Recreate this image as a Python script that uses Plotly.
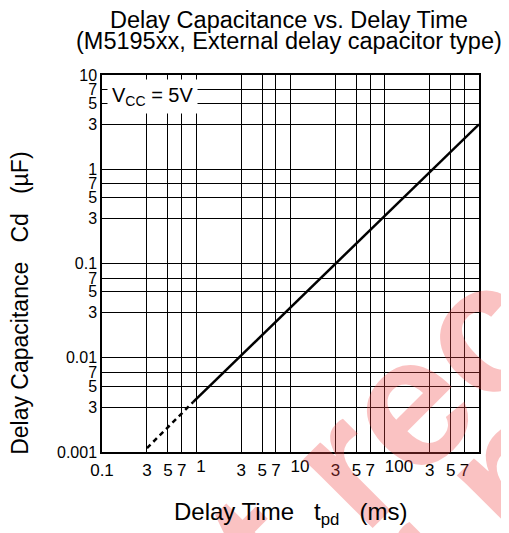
import plotly.graph_objects as go

# ---- data ----
t_solid = [0.93, 10, 100, 1000]          # delay time tpd (ms)
c_solid = [0.0034, 0.034, 0.32, 3.0]     # delay capacitance Cd (uF)
t_dashed = [0.3, 0.93]
c_dashed = [0.0011, 0.0034]

# grid / minor tick labels (centred under the grid line)
x_tickvals = [0.1, 0.3, 0.5, 0.7, 1, 3, 5, 7, 10, 30, 50, 70, 100, 300, 500, 700, 1000]
x_ticktext = ["0.1", "3", "5", "7", "", "3", "5", "7", "", "3", "5", "7", "", "3", "5", "7", ""]
# decade labels (start at the grid line)
x_decade_vals = [1, 10, 100, 1000]
x_decade_text = ["1", "10", "100", "1000"]
y_tickvals = [0.001, 0.003, 0.005, 0.007, 0.01, 0.03, 0.05, 0.07, 0.1, 0.3, 0.5, 0.7, 1, 3, 5, 7, 10]
y_ticktext = ["0.001", "3", "5", "7", "0.01", "3", "5", "7", "0.1", "3", "5", "7", "1", "3", "5", "7", "10"]

FONT = "Arial, Liberation Sans, Helvetica, sans-serif"

fig = go.Figure()
fig.add_trace(go.Scatter(x=t_solid, y=c_solid, mode="lines",
                         line=dict(color="black", width=2.5), showlegend=False, hoverinfo="skip"))
fig.add_trace(go.Scatter(x=t_dashed, y=c_dashed, mode="lines", xaxis="x2",
                         line=dict(color="black", width=2.5, dash="5px,4px"), showlegend=False,
                         hoverinfo="skip"))

tickfont = dict(size=17, color="black", family=FONT)
fig.update_layout(
    xaxis=dict(type="log", range=[-1, 3], tickvals=x_tickvals, ticktext=x_ticktext,
               showgrid=True, gridcolor="black", gridwidth=1,
               showline=True, linecolor="black", linewidth=1.5, mirror=True,
               ticks="", zeroline=False, tickangle=0, automargin=False,
               ticklabelstandoff=2, tickfont=tickfont),
    xaxis2=dict(type="log", range=[-1, 3], overlaying="x", matches="x", anchor="y", side="bottom",
                tickvals=x_decade_vals, ticktext=x_decade_text, ticklabelposition="outside right",
                showgrid=False, showline=False, ticks="", zeroline=False, tickangle=0,
                automargin=False, ticklabelstandoff=2, tickfont=tickfont),
    yaxis=dict(type="log", range=[-3, 1], tickvals=y_tickvals, ticktext=y_ticktext,
               showgrid=True, gridcolor="black", gridwidth=1,
               showline=True, linecolor="black", linewidth=1.5, mirror=True,
               ticks="", zeroline=False, automargin=False,
               tickfont=dict(size=16, color="black", family=FONT)),
)

WM = "rgba(240, 70, 70, 0.33)"
anns = [
    # faint red diagonal watermark
    dict(text="Not recommended", x=1.422, y=0.743, xref="paper", yref="paper",
         xanchor="center", yanchor="middle", textangle=-45, showarrow=False,
         font=dict(size=185, color=WM, family=FONT, weight="bold")),
    dict(text="for new design", x=1.647, y=0.517, xref="paper", yref="paper",
         xanchor="center", yanchor="middle", textangle=-45, showarrow=False,
         font=dict(size=185, color=WM, family=FONT, weight="bold")),
    dict(text="Delay Capacitance vs. Delay Time", x=0.496, y=1.1467, xref="paper", yref="paper",
         xanchor="center", yanchor="middle", showarrow=False, font=dict(size=23.5, color="black", family=FONT)),
    dict(text="(M5195xx, External delay capacitor type)", x=0.496, y=1.0894, xref="paper", yref="paper",
         xanchor="center", yanchor="middle", showarrow=False, font=dict(size=23.5, color="black", family=FONT)),
    dict(text="V<sub>CC</sub> = 5V", x=0.133, y=0.944, xref="paper", yref="paper",
         xanchor="center", yanchor="middle", showarrow=False, bgcolor="white", borderpad=4,
         font=dict(size=20, color="black", family=FONT)),
    dict(text="Delay Time   t<sub>pd</sub>   (ms)", x=0.5, y=-0.162, xref="paper", yref="paper",
         xanchor="center", yanchor="middle", showarrow=False, font=dict(size=24, color="black", family=FONT)),
    dict(text="Delay Capacitance   Cd   (\u00b5F)", x=-0.2175, y=0.393, xref="paper", yref="paper",
         xanchor="center", yanchor="middle", textangle=-90, showarrow=False,
         font=dict(size=23, color="black", family=FONT)),
]
# the page has an 8px body margin, so the figure is 8px smaller and its margins 8px tighter
fig.update_layout(
    width=501, height=525,
    margin=dict(l=94, r=30, t=67, b=81, autoexpand=False),
    paper_bgcolor="white", plot_bgcolor="white",
    font=dict(family=FONT, color="black"),
    annotations=anns,
)
fig.write_html("out.html")
